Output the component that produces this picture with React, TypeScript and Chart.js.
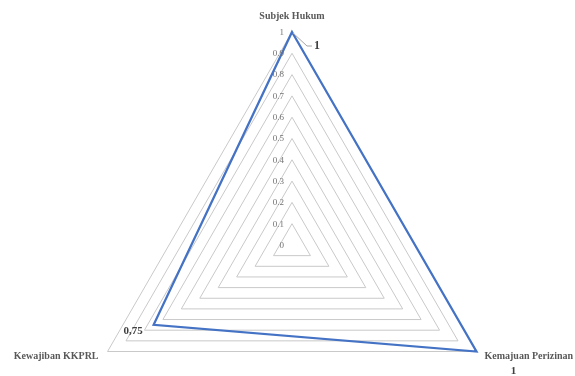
import React, { useEffect, useRef } from "react";
import { Chart, registerables } from "chart.js";

Chart.register(...registerables);

const categories = ["Subjek Hukum", "Kemajuan Perizinan", "Kewajiban KKPRL"];
const seriesValues = [1, 1, 0.75];
const dataLabels = ["1", "1", "0,75"];
const tickMin = 0;
const tickMax = 1;
const tickStep = 0.1;

const SERIF = "'Liberation Serif', 'Times New Roman', serif";

const overlayPlugin = {
  id: "overlay",
  afterDraw(chart: any) {
    const ctx = chart.ctx;
    const scale = chart.scales.r;
    ctx.save();
    // tick labels
    ctx.font = `9px ${SERIF}`;
    ctx.fillStyle = "#737373";
    ctx.textAlign = "right";
    ctx.textBaseline = "middle";
    scale.ticks.forEach((t: any) => {
      const p = scale.getPointPositionForValue(0, t.value);
      const txt = String(Math.round(t.value * 10) / 10);
      ctx.fillText(txt, scale.xCenter - 8, p.y + 0.5);
    });
    // category labels
    ctx.font = `bold 10px ${SERIF}`;
    ctx.fillStyle = "#595959";
    const labels: string[] = chart.data.labels;
    labels.forEach((lab, i) => {
      const p = scale.getPointPosition(i, scale.drawingArea);
      if (i === 0) {
        ctx.textAlign = "center";
        ctx.fillText(lab, p.x, p.y - 16);
      } else if (i === 1) {
        ctx.textAlign = "left";
        ctx.fillText(lab, p.x + 8, p.y + 5);
      } else {
        ctx.textAlign = "right";
        ctx.fillText(lab, p.x - 9, p.y + 5);
      }
    });
    // data labels
    const meta = chart.getDatasetMeta(0);
    ctx.fillStyle = "#404040";
    meta.data.forEach((pt: any, i: number) => {
      const txt = dataLabels[i];
      if (i === 0) {
        ctx.strokeStyle = "#a6a6a6";
        ctx.lineWidth = 1;
        ctx.beginPath();
        ctx.moveTo(pt.x + 1, pt.y + 1);
        ctx.lineTo(pt.x + 15, pt.y + 14);
        ctx.lineTo(pt.x + 20, pt.y + 14);
        ctx.stroke();
        ctx.font = `bold 12px ${SERIF}`;
        ctx.textAlign = "left";
        ctx.fillText(txt, pt.x + 22, pt.y + 14);
      } else if (i === 1) {
        ctx.font = `bold 11px ${SERIF}`;
        ctx.textAlign = "center";
        ctx.fillText(txt, pt.x + 37, pt.y + 20);
      } else {
        ctx.font = `bold 11px ${SERIF}`;
        ctx.textAlign = "right";
        ctx.fillText(txt, pt.x - 11, pt.y + 6);
      }
    });
    ctx.restore();
  },
};

export default function App() {
  const ref = useRef<HTMLCanvasElement | null>(null);
  useEffect(() => {
    if (!ref.current) return;
    const chart = new Chart(ref.current, {
      type: "radar",
      data: {
        labels: categories,
        datasets: [
          {
            data: seriesValues,
            borderColor: "#4472C4",
            borderWidth: 2.25,
            backgroundColor: "rgba(0,0,0,0)",
            fill: false,
            pointRadius: 0,
            pointHoverRadius: 0,
          },
        ],
      },
      options: {
        animation: false,
        responsive: false,
        events: [],
        layout: { padding: { left: 79, right: 70, top: 32, bottom: 2 } },
        plugins: { legend: { display: false }, tooltip: { enabled: false } },
        scales: {
          r: {
            min: tickMin,
            max: tickMax,
            ticks: { stepSize: tickStep, display: false },
            grid: { color: "#c9c9c9", lineWidth: 1 },
            angleLines: { display: false },
            pointLabels: { display: false },
          },
        },
      },
      plugins: [overlayPlugin],
    });
    return () => chart.destroy();
  }, []);
  return (
    <div
      style={{
        position: "absolute",
        left: 0,
        top: 0,
        width: 575,
        height: 376,
        overflow: "hidden",
        background: "#fff",
      }}
    >
      <canvas ref={ref} width={575} height={460} style={{ display: "block" }} />
    </div>
  );
}
